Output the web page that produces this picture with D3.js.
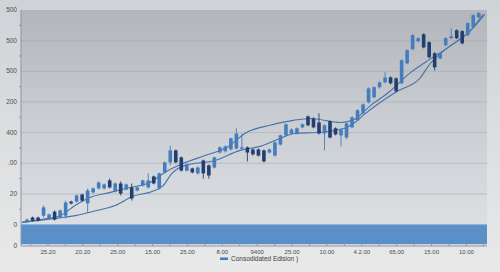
<!DOCTYPE html>
<html>
<head>
<meta charset="utf-8">
<script src="https://cdn.jsdelivr.net/npm/d3@7"></script>
<style>
  html, body { margin: 0; padding: 0; }
  body { width: 500px; height: 272px; overflow: hidden; }
  svg { display: block; font-family: "Liberation Sans", Arial, sans-serif; }
</style>
</head>
<body>
<svg id="chart" width="500" height="272"></svg>
<script>
// candle values, one per trading session (index = position on x)
const opens  = [10,23,23,29,20,42,23,29,75,75,98,69,105,118,118,144,108,134,114,121,111,127,121,157,118,170,203,242,219,176,183,167,209,193,186,235,239,245,248,248,252,245,245,242,235,225,261,291,297,297,317,353,346,333,297,337,314,291,284,317,340,363,399,415,448,464,480,477,461,526,572,598,621,595,559,542,585,608,634,631,618,644,676];
const closes = [16,13,13,56,33,16,46,72,69,95,78,111,118,137,131,121,134,101,131,85,121,144,144,134,167,203,242,203,176,196,170,186,167,160,219,252,255,281,297,252,235,229,225,206,245,268,291,327,310,314,327,324,317,297,324,284,294,310,330,350,373,392,444,448,464,480,461,435,536,569,618,608,578,546,513,559,608,614,608,591,657,683,690];
const highs  = [20,26,26,62,36,46,49,78,78,98,101,118,121,141,134,150,137,141,134,134,124,147,167,160,170,206,258,245,222,199,186,190,212,196,222,255,258,284,314,297,255,248,248,245,248,271,294,330,314,317,330,356,350,363,327,340,317,314,333,353,376,395,448,451,467,497,484,480,539,572,621,611,624,598,562,562,611,641,637,634,660,686,693];
const lows   = [7,10,10,23,16,13,20,20,65,72,75,39,101,114,114,118,105,95,111,78,108,124,118,131,114,167,193,199,173,173,167,163,150,150,183,232,235,242,245,245,206,225,222,203,232,222,258,288,294,294,314,320,314,294,242,281,291,255,278,314,337,360,395,412,444,461,457,431,457,523,569,595,575,542,503,539,582,605,605,588,614,641,673];

// the two trend lines, as [session index, value]
const upperLine = [[-0.9,7],[2.4,16],[6,29],[8.7,62],[11.4,88],[15.1,105],[18.7,121],[22.3,137],[25,170],[28.3,199],[32.3,225],[36.3,252],[39.9,301],[44.1,324],[48.3,340],[51.4,346],[56.9,333],[59.1,340],[62.4,389],[65.9,435],[69.5,494],[73.1,539],[76.8,582],[80.4,631],[83.1,686]];
const lowerLine = [[-0.9,7],[5.1,20],[8.7,29],[12.7,46],[16,62],[19.2,92],[22.7,108],[24.7,127],[26.3,167],[28.7,193],[34.1,209],[38.7,242],[42.3,255],[45.9,281],[48.6,297],[53.1,301],[57.7,314],[59.5,333],[61,356],[67.2,435],[71.3,477],[73.1,523],[76.2,575],[80.4,631],[82.8,686]];

// axis labels as they are printed on the chart
const yTickValues = [-70, 0, 100, 200, 300, 400, 500, 600, 700];
const yTickLabels = ['0', '0', '20', '.00', '400', '200', '500', '500', '500'];
const xTickLabels = ['25.20', '20.20', '25.00', '15.00', '25.00', '8.00', '9400', '25.00', '10.00', '4.2.00', '65.00', '15.00', '10.00'];
const seriesName = 'Consodidated Edision )';

const margin = { top: 10, right: 13, bottom: 26, left: 21 };
const width = 500, height = 272;
const innerW = width - margin.left - margin.right;
const innerH = height - margin.top - margin.bottom;

const svg = d3.select('#chart');
const defs = svg.append('defs');

const bg = defs.append('linearGradient').attr('id', 'bg').attr('x1', 0).attr('y1', 0).attr('x2', 0).attr('y2', 1);
bg.append('stop').attr('offset', '0%').attr('stop-color', '#cfd3d7');
bg.append('stop').attr('offset', '100%').attr('stop-color', '#e9e9e9');

const plotBg = defs.append('linearGradient').attr('id', 'plotBg').attr('x1', 0).attr('y1', 0).attr('x2', 0).attr('y2', 1);
plotBg.append('stop').attr('offset', '0%').attr('stop-color', '#b2b6ba');
plotBg.append('stop').attr('offset', '45%').attr('stop-color', '#c9cdd2');
plotBg.append('stop').attr('offset', '100%').attr('stop-color', '#e0e2e5');

svg.append('rect').attr('width', width).attr('height', height).attr('fill', 'url(#bg)');

const g = svg.append('g').attr('transform', `translate(${margin.left},${margin.top})`);

const x = d3.scaleLinear().domain([-1.1, 83.5]).range([0, innerW]);
const y = d3.scaleLinear().domain([-70, 700]).range([innerH, 0]);

g.append('rect').attr('width', innerW).attr('height', innerH).attr('fill', 'url(#plotBg)');

// gridlines
g.append('g')
  .selectAll('line')
  .data(yTickValues.filter((v) => v > 0 && v < 700))
  .join('line')
  .attr('x1', 0).attr('x2', innerW)
  .attr('y1', (d) => y(d)).attr('y2', (d) => y(d))
  .attr('stroke', '#a4a9ae').attr('stroke-width', 0.8).attr('opacity', 0.7);

// blue band along the bottom
g.append('rect')
  .attr('x', 0).attr('width', innerW)
  .attr('y', y(0)).attr('height', y(-64) - y(0))
  .attr('fill', '#5b8fc8');
g.append('line')
  .attr('x1', 0).attr('x2', innerW).attr('y1', y(0)).attr('y2', y(0))
  .attr('stroke', '#8fb3da').attr('stroke-width', 1);

// trend lines
const line = d3.line().x((d) => x(d[0])).y((d) => y(d[1])).curve(d3.curveMonotoneX);
[upperLine, lowerLine].forEach((pts) => {
  g.append('path')
    .datum(pts)
    .attr('d', line)
    .attr('fill', 'none')
    .attr('stroke', '#4672aa')
    .attr('stroke-width', 1.1);
});

// candles
const candles = opens.map((o, i) => ({ i, o, c: closes[i], h: highs[i], l: lows[i] }));
const bodyW = 3.6;
const cg = g.append('g').selectAll('g').data(candles).join('g');
cg.append('line')
  .attr('x1', (d) => x(d.i)).attr('x2', (d) => x(d.i))
  .attr('y1', (d) => y(d.h)).attr('y2', (d) => y(d.l))
  .attr('stroke', (d) => (d.c >= d.o ? '#457cbd' : '#223f6f'))
  .attr('stroke-width', 0.9);
cg.append('rect')
  .attr('x', (d) => x(d.i) - bodyW / 2)
  .attr('width', bodyW)
  .attr('y', (d) => y(Math.max(d.o, d.c)))
  .attr('height', (d) => Math.max(1.5, Math.abs(y(d.o) - y(d.c))))
  .attr('fill', (d) => (d.c >= d.o ? '#457cbd' : '#223f6f'));

// left axis
const yAxis = g.append('g');
yAxis.append('line')
  .attr('x1', 0).attr('x2', 0).attr('y1', 0).attr('y2', innerH)
  .attr('stroke', '#8d96a2').attr('stroke-width', 1);
yAxis.selectAll('text')
  .data(yTickValues)
  .join('text')
  .attr('x', -4)
  .attr('y', (d) => y(d))
  .attr('dy', '0.32em')
  .attr('text-anchor', 'end')
  .attr('font-size', 6.5)
  .attr('fill', '#4a4d52')
  .text((d, i) => yTickLabels[i]);
yAxis.selectAll('line.minor')
  .data(d3.range(50, 700, 100))
  .join('line')
  .attr('class', 'minor')
  .attr('x1', -2).attr('x2', 0)
  .attr('y1', (d) => y(d)).attr('y2', (d) => y(d))
  .attr('stroke', '#8d96a2');

// bottom axis: a label every tickStep sessions, a tick every half step
const tickStart = 3.8, tickStep = 6.33;
const xAxis = g.append('g').attr('transform', `translate(0,${innerH})`);
xAxis.append('line')
  .attr('x1', 0).attr('x2', innerW)
  .attr('stroke', '#8d96a2').attr('stroke-width', 1);
xAxis.selectAll('line.tick')
  .data(d3.range(-1, xTickLabels.length * 2).map((k) => tickStart + k * tickStep / 2))
  .join('line')
  .attr('class', 'tick')
  .attr('x1', (d) => x(d)).attr('x2', (d) => x(d))
  .attr('y1', -3).attr('y2', 0)
  .attr('stroke', '#8d96a2');
xAxis.selectAll('text')
  .data(xTickLabels)
  .join('text')
  .attr('x', (d, i) => x(tickStart + i * tickStep))
  .attr('y', 8)
  .attr('text-anchor', 'middle')
  .attr('font-size', 6)
  .attr('fill', '#4a4d52')
  .text((d) => d);

// legend
const legend = svg.append('g').attr('transform', `translate(${margin.left + innerW / 2 - 34},259)`);
legend.append('rect').attr('x', 0).attr('y', -1.5).attr('width', 8).attr('height', 2.5).attr('fill', '#457cbd');
legend.append('text')
  .attr('x', 11).attr('y', 0).attr('dy', '0.35em')
  .attr('font-size', 6.5).attr('fill', '#3a3d42')
  .text(seriesName);
</script>
</body>
</html>
